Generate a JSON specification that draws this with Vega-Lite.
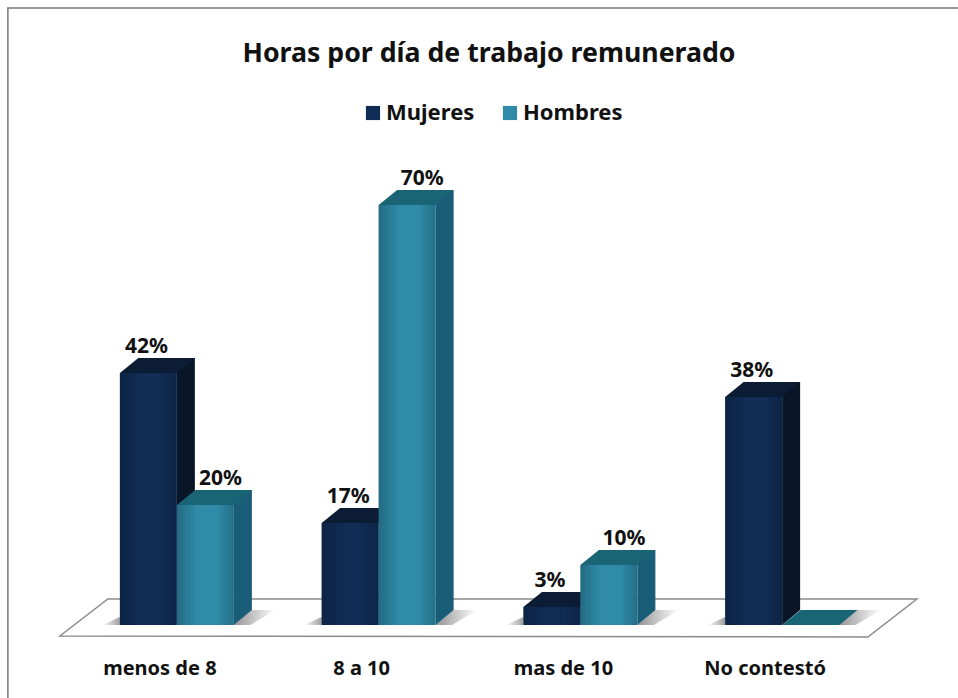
{
"$schema":"https://vega.github.io/schema/vega-lite/v6.json",
"width":807,"height":495,"autosize":{"type":"none"},
"padding":{"left":76,"top":130,"right":75,"bottom":73},
"background":"white",
"title":{"text":"Horas por día de trabajo remunerado","anchor":"middle","frame":"group","dx":9.5,"offset":-63,"font":"Noto Sans","fontSize":26.7,"fontWeight":"bold","color":"#111111"},
"config":{"view":{"stroke":null}},
"data":{"values":[
{"cat":"menos de 8","series":"Mujeres","value":0.42},
{"cat":"menos de 8","series":"Hombres","value":0.20},
{"cat":"8 a 10","series":"Mujeres","value":0.17},
{"cat":"8 a 10","series":"Hombres","value":0.70},
{"cat":"mas de 10","series":"Mujeres","value":0.03},
{"cat":"mas de 10","series":"Hombres","value":0.10},
{"cat":"No contestó","series":"Mujeres","value":0.38},
{"cat":"No contestó","series":"Hombres","value":0}
]},
"encoding":{
"x":{"field":"cat","type":"nominal","sort":null,"title":null,
 "scale":{"domain":["menos de 8","8 a 10","mas de 10","No contestó"],"paddingInner":0,"paddingOuter":0},
 "axis":{"domain":false,"ticks":false,"labelAngle":0,"labelOffset":-17,"labelPadding":33,"labelFont":"Noto Sans","labelFontSize":20,"labelFontWeight":"bold","labelColor":"#111111","grid":false}},
"xOffset":{"field":"series","type":"nominal","sort":null,"scale":{"domain":["Mujeres","Hombres"],"range":[43.875,157.875],"paddingInner":0,"paddingOuter":0}},
"y":{"field":"value","type":"quantitative","axis":null,"scale":{"domain":[0,0.825],"nice":false,"zero":true}}
},
"layer":[
{"data":{"values":[{"cat":"menos de 8","value":0}]},
 "mark":{"type":"point","filled":false,"size":4,"stroke":"#777777","strokeWidth":1.5,"opacity":1,"shape":"M-169,73 L-169,-617 L781,-617"},
 "encoding":{"xOffset":{"value":100.875}}},
{"data":{"values":[{"cat":"menos de 8","value":0}]},
 "mark":{"type":"point","filled":true,"size":4,"fill":"#ffffff","stroke":"#8a8a8a","strokeWidth":1.5,"opacity":1,"shape":"M-117,11 L-69,-26 L740,-26 L691,12 Z"},
 "encoding":{"xOffset":{"value":100.875}}},
{"transform":[{"filter":"datum.series==='Mujeres'"}],
 "mark":{"type":"point","filled":true,"size":4,"opacity":1,"shape":"M-46,0 L-28.5,-8 L-28.5,0 Z","color":{"x1":0,"x2":1,"y1":0,"y2":0,"gradient":"linear","stops":[{"offset":0,"color":"rgba(40,40,40,0)"},{"offset":1,"color":"rgba(40,40,40,0.45)"}]}},
 "encoding":{"y":{"datum":0}}},
{"transform":[{"filter":"datum.series==='Hombres'"}],
 "mark":{"type":"point","filled":true,"size":4,"opacity":1,"shape":"M28.5,0 L46,-15 L70,-15 L45,0 Z","color":{"x1":0,"x2":1,"y1":0,"y2":0,"gradient":"linear","stops":[{"offset":0,"color":"rgba(40,40,40,0.5)"},{"offset":1,"color":"rgba(40,40,40,0)"}]}},
 "encoding":{"y":{"datum":0}}},
{"transform":[{"filter":"datum.series==='Mujeres'"}],
 "mark":{"type":"rule","strokeWidth":18,"strokeCap":"butt","yOffset":-15,"y2Offset":-15,"color":"#081628"},
 "encoding":{"y2":{"datum":0},"xOffset":{"value":109.875}}},
{"transform":[{"filter":"datum.series==='Hombres'"}],
 "mark":{"type":"rule","strokeWidth":18,"strokeCap":"butt","yOffset":-15,"y2Offset":-15,"color":"#1a5d78"},
 "encoding":{"y2":{"datum":0},"xOffset":{"value":166.875}}},
{"transform":[{"filter":"datum.series==='Mujeres'"}],
 "mark":{"type":"point","filled":true,"size":4,"opacity":1,"color":"#081628","shape":"M28.5,0 L46.5,-15 L28.5,-15 Z"},
 "encoding":{"y":{"datum":0}}},
{"transform":[{"filter":"datum.series==='Hombres'"}],
 "mark":{"type":"point","filled":true,"size":4,"opacity":1,"color":"#1a5d78","shape":"M28.5,0 L46.5,-15 L28.5,-15 Z"},
 "encoding":{"y":{"datum":0}}},
{"transform":[{"filter":"datum.series==='Mujeres'"}],
 "mark":{"type":"point","filled":true,"size":4,"opacity":1,"color":"#0b1c34","shape":"M-28.5,0 L-10,-15 L46.5,-15 L28.5,0 Z"}},
{"transform":[{"filter":"datum.series==='Hombres'"}],
 "mark":{"type":"point","filled":true,"size":4,"opacity":1,"color":"#1a6575","shape":"M-28.5,0 L-10,-15 L46.5,-15 L28.5,0 Z"}},
{"mark":{"type":"bar"},
 "encoding":{"color":{"field":"series","type":"nominal","scale":{"domain":["Mujeres","Hombres"],"range":["#102c54","#2f8ba8"]},
  "legend":{"title":null,"orient":"none","legendX":286,"legendY":-28,"direction":"horizontal","columns":2,"symbolType":"square","symbolSize":200,"symbolStrokeWidth":0,"labelFont":"Noto Sans","labelFontSize":22,"labelFontWeight":"bold","labelColor":"#111111","columnPadding":24,"labelOffset":2}}}},
{"mark":{"type":"bar","color":{"x1":0,"x2":1,"y1":0,"y2":0,"gradient":"linear","stops":[{"offset":0,"color":"rgba(0,10,20,0.25)"},{"offset":0.35,"color":"rgba(0,10,20,0)"},{"offset":0.7,"color":"rgba(0,10,20,0)"},{"offset":1,"color":"rgba(0,10,20,0.22)"}]}}},
{"transform":[{"filter":"datum.series==='Mujeres'"}],
 "mark":{"type":"text","font":"Noto Sans","fontSize":21,"fontWeight":"bold","color":"#111111","dx":-2,"dy":-20,"baseline":"alphabetic"},
 "encoding":{"text":{"field":"value","type":"quantitative","format":".0%"}}},
{"transform":[{"filter":"datum.series==='Hombres' && datum.value>0"}],
 "mark":{"type":"text","font":"Noto Sans","fontSize":21,"fontWeight":"bold","color":"#111111","dx":15,"dy":-20,"baseline":"alphabetic"},
 "encoding":{"text":{"field":"value","type":"quantitative","format":".0%"}}}
]
}
